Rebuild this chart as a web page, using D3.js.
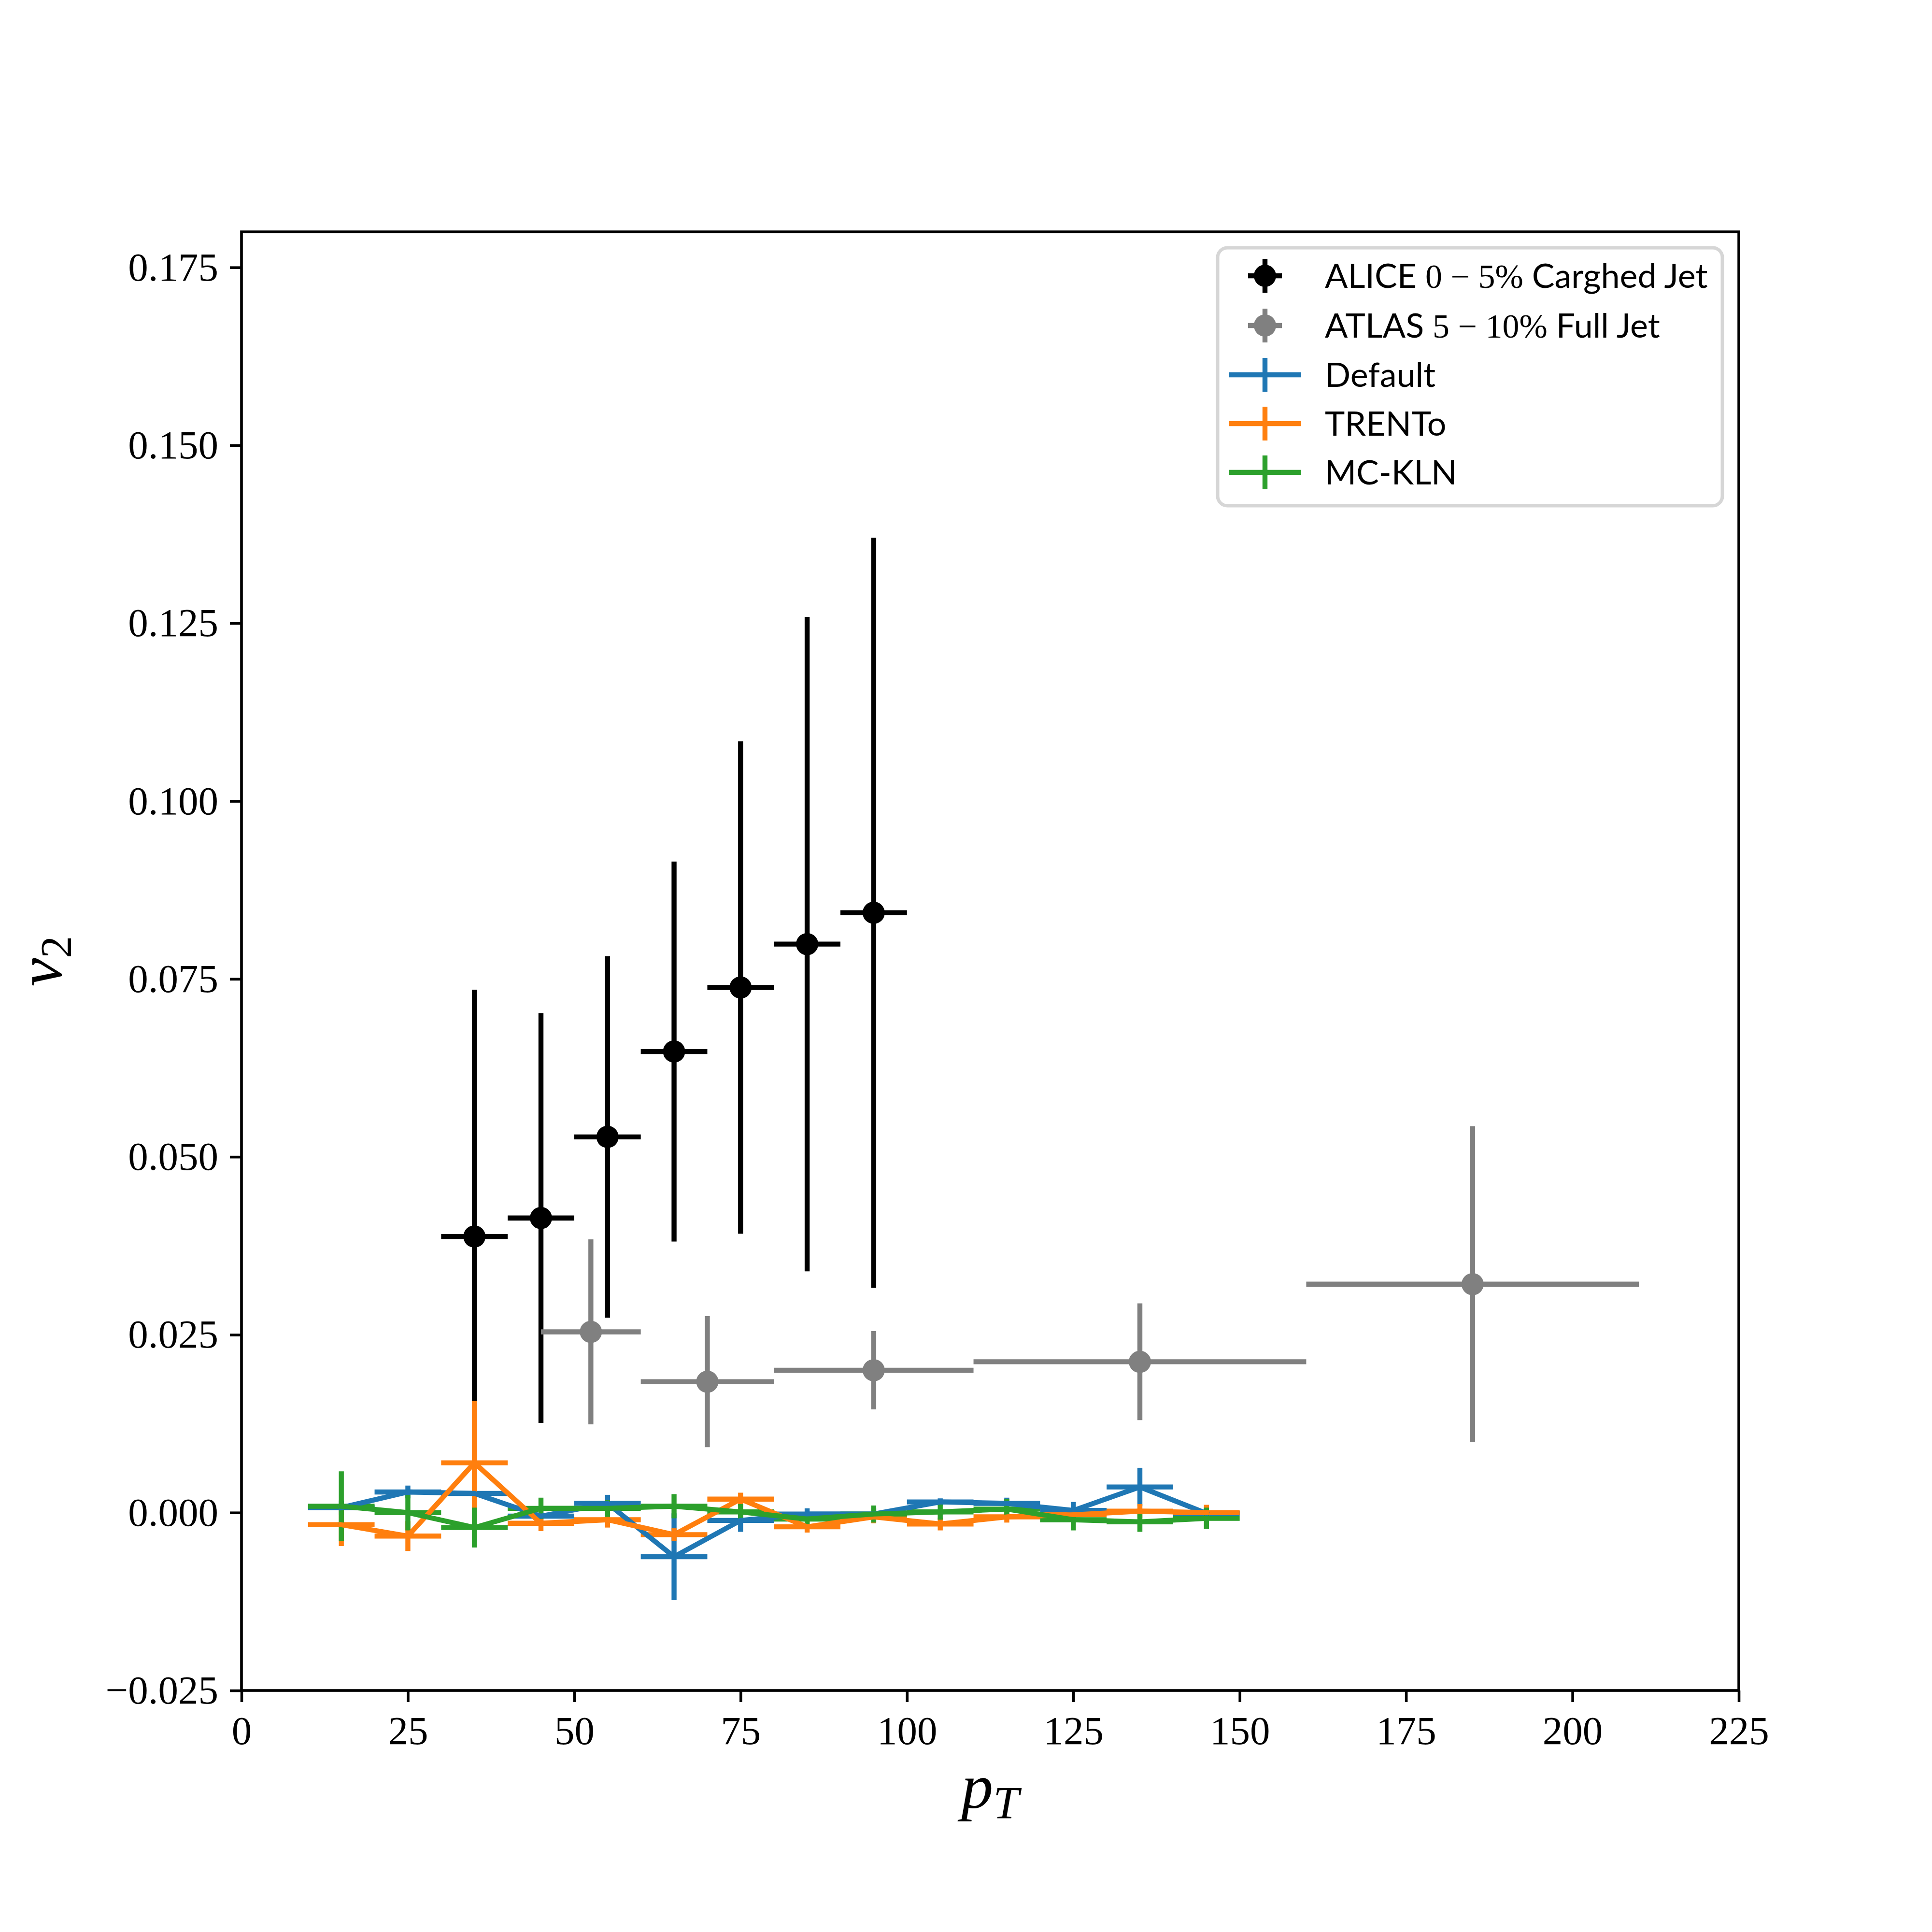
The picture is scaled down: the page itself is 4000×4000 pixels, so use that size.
<!DOCTYPE html>
<html>
<head>
<meta charset="utf-8">
<script src="https://cdn.jsdelivr.net/npm/d3@7/dist/d3.min.js"></script>
<style>
  html, body { margin: 0; padding: 0; background: #ffffff; }
  svg { display: block; }
</style>
</head>
<body>
<script>
// ---------------- data ----------------
const xTicks = [0, 25, 50, 75, 100, 125, 150, 175, 200, 225];
const yTicks = [-0.025, 0, 0.025, 0.05, 0.075, 0.1, 0.125, 0.15, 0.175];

const aliceX    = [35, 45, 55, 65, 75, 85, 95];
const aliceXerr = [5, 5, 5, 5, 5, 5, 5];
const aliceY    = [0.0388, 0.0414, 0.0528, 0.0648, 0.0738, 0.0799, 0.0843];
const aliceYerr = [0.0347, 0.0288, 0.0254, 0.0267, 0.0346, 0.0460, 0.0527];

const atlasX    = [52.5, 70, 95, 135, 185];
const atlasXerr = [7.5, 10, 15, 25, 25];
const atlasY    = [0.0254, 0.0184, 0.0200, 0.0212, 0.0321];
const atlasYerr = [0.0130, 0.0092, 0.0055, 0.0082, 0.0222];

const modelX    = [15, 25, 35, 45, 55, 65, 75, 85, 95, 105, 115, 125, 135, 145];
const modelXerr = [5, 5, 5, 5, 5, 5, 5, 5, 5, 5, 5, 5, 5, 5];
const defaultY   = [0.0007, 0.0029, 0.0027, -0.0005, 0.0013, -0.0062, -0.0011, -0.0002, -0.0002, 0.0015, 0.0013, 0.0003, 0.0036, -0.0001];
const defaultErr = [0.0010, 0.0009, 0.0010, 0.0010, 0.0012, 0.0061, 0.0016, 0.0008, 0.0008, 0.0005, 0.0008, 0.0012, 0.0027, 0.0008];
const trentoY    = [-0.0017, -0.0033, 0.0070, -0.0015, -0.0010, -0.0031, 0.0019, -0.0020, -0.0006, -0.0016, -0.0006, -0.0003, 0.0002, 0.0000];
const trentoErr  = [0.0030, 0.0021, 0.0087, 0.0011, 0.0011, 0.0009, 0.0009, 0.0008, 0.0009, 0.0009, 0.0008, 0.0009, 0.0010, 0.0011];
const mcklnY     = [0.0009, 0.0000, -0.0021, 0.0006, 0.0006, 0.0009, 0.0001, -0.0009, -0.0002, 0.0001, 0.0005, -0.0010, -0.0013, -0.0008];
const mcklnErr   = [0.0049, 0.0025, 0.0028, 0.0015, 0.0012, 0.0017, 0.0011, 0.0010, 0.0012, 0.0011, 0.0014, 0.0015, 0.0014, 0.0015];

const seriesNames = ["ALICE", "ATLAS", "Default", "TRENTo", "MC-KLN"];

// ---------------- layout ----------------
const W = 4000, H = 4000;
const M = { left: 500, right: 3600, top: 480, bottom: 3500 };
const LW = 10.4;         // 1.5pt line width
const SPINE = 5.6;       // 0.8pt
const serif = "'Liberation Serif', 'DejaVu Serif', serif";
const sans = "Lato, 'Open Sans', 'DejaVu Sans', sans-serif";

const x = d3.scaleLinear().domain([0, 225]).range([M.left, M.right]);
const y = d3.scaleLinear().domain([-0.025, 0.18]).range([M.bottom, M.top]);

const svg = d3.select("body").append("svg")
  .attr("width", W).attr("height", H)
  .attr("viewBox", `0 0 ${W} ${H}`);
svg.append("rect").attr("width", W).attr("height", H).attr("fill", "#ffffff");

// build series objects from arrays
function zipSeries(xs, xe, ys, ye) {
  return xs.map((v, i) => ({ x: v, xerr: xe[i], y: ys[i], yerr: ye[i] }));
}
const series = [
  { name: seriesNames[0], color: "#000000", marker: true,  line: false, data: zipSeries(aliceX, aliceXerr, aliceY, aliceYerr) },
  { name: seriesNames[1], color: "#808080", marker: true,  line: false, data: zipSeries(atlasX, atlasXerr, atlasY, atlasYerr) },
  { name: seriesNames[2], color: "#1f77b4", marker: false, line: true,  data: zipSeries(modelX, modelXerr, defaultY, defaultErr) },
  { name: seriesNames[3], color: "#ff7f0e", marker: false, line: true,  data: zipSeries(modelX, modelXerr, trentoY, trentoErr) },
  { name: seriesNames[4], color: "#2ca02c", marker: false, line: true,  data: zipSeries(modelX, modelXerr, mcklnY, mcklnErr) }
];

const plot = svg.append("g");

// error bars first (zorder 2), all series
series.forEach(s => {
  const g = plot.append("g").attr("stroke", s.color).attr("stroke-width", LW).attr("fill", "none");
  g.selectAll("line.v").data(s.data).join("line").attr("class", "v")
    .attr("x1", d => x(d.x)).attr("x2", d => x(d.x))
    .attr("y1", d => y(d.y - d.yerr)).attr("y2", d => y(d.y + d.yerr));
  g.selectAll("line.h").data(s.data).join("line").attr("class", "h")
    .attr("x1", d => x(d.x - d.xerr)).attr("x2", d => x(d.x + d.xerr))
    .attr("y1", d => y(d.y)).attr("y2", d => y(d.y));
});

// data lines and markers (zorder 2.1)
series.forEach(s => {
  if (s.line) {
    plot.append("path").datum(s.data)
      .attr("fill", "none").attr("stroke", s.color).attr("stroke-width", LW)
      .attr("stroke-linejoin", "round").attr("stroke-linecap", "square")
      .attr("d", d3.line().x(d => x(d.x)).y(d => y(d.y)));
  }
  if (s.marker) {
    plot.append("g").selectAll("circle").data(s.data).join("circle")
      .attr("cx", d => x(d.x)).attr("cy", d => y(d.y)).attr("r", 23)
      .attr("fill", s.color);
  }
});

// ---------------- axes ----------------
const fmtY = d3.format(".3f");
const xAxis = d3.axisBottom(x).tickValues(xTicks).tickFormat(d3.format("d"))
  .tickSizeInner(24).tickSizeOuter(0).tickPadding(24);
const yAxis = d3.axisLeft(y).tickValues(yTicks).tickFormat(fmtY)
  .tickSizeInner(24).tickSizeOuter(0).tickPadding(24);

const gx = svg.append("g").attr("transform", `translate(0,${M.bottom})`).call(xAxis);
const gy = svg.append("g").attr("transform", `translate(${M.left},0)`).call(yAxis);
[gx, gy].forEach(g => {
  g.select(".domain").remove();
  g.selectAll(".tick line").attr("stroke", "#000").attr("stroke-width", SPINE);
  g.selectAll(".tick text").attr("fill", "#000")
    .style("font-family", serif).style("font-size", "83px");
});
gx.selectAll(".tick text").attr("dy", "0.76em");

// spines
svg.append("rect")
  .attr("x", M.left).attr("y", M.top)
  .attr("width", M.right - M.left).attr("height", M.bottom - M.top)
  .attr("fill", "none").attr("stroke", "#000").attr("stroke-width", SPINE)
  .attr("stroke-linejoin", "miter");

// axis labels
const xl = svg.append("text")
  .attr("x", (M.left + M.right) / 2).attr("y", 3743)
  .attr("text-anchor", "middle")
  .style("font-family", serif).style("font-style", "italic").style("font-size", "132px");
xl.append("tspan").text("p");
xl.append("tspan").attr("dy", 22).style("font-size", "96px").text("T");

const yl = svg.append("text")
  .attr("transform", `translate(127,${(M.top + M.bottom) / 2}) rotate(-90)`)
  .attr("text-anchor", "middle")
  .style("font-family", serif).style("font-style", "italic").style("font-size", "132px");
yl.append("tspan").text("v");
yl.append("tspan").attr("dy", 20).style("font-size", "92px").style("font-style", "normal").text("2");

// ---------------- legend ----------------
const leg = svg.append("g");
leg.append("rect")
  .attr("x", 2521).attr("y", 513).attr("width", 3566 - 2521).attr("height", 1047 - 513)
  .attr("rx", 20).attr("ry", 20)
  .attr("fill", "#ffffff").attr("fill-opacity", 0.8)
  .attr("stroke", "#d6d6d6").attr("stroke-width", 7);

const legendRows = [
  { s: series[0], cy: 571, parts: [["ALICE ", sans], ["0 − 5%", serif], [" Carghed Jet", sans]] },
  { s: series[1], cy: 674, parts: [["ATLAS ", sans], ["5 − 10%", serif], [" Full Jet", sans]] },
  { s: series[2], cy: 776, parts: [["Default", sans]] },
  { s: series[3], cy: 877, parts: [["TRENTo", sans]] },
  { s: series[4], cy: 978, parts: [["MC-KLN", sans]] }
];
const hx = 2619;
legendRows.forEach(r => {
  const g = leg.append("g").attr("stroke", r.s.color).attr("stroke-width", LW);
  g.append("line").attr("x1", hx).attr("x2", hx).attr("y1", r.cy - 35).attr("y2", r.cy + 35);
  if (r.s.line) {
    g.append("line").attr("x1", 2544).attr("x2", 2694).attr("y1", r.cy).attr("y2", r.cy);
  } else {
    g.append("line").attr("x1", hx - 35).attr("x2", hx + 35).attr("y1", r.cy).attr("y2", r.cy);
    leg.append("circle").attr("cx", hx).attr("cy", r.cy).attr("r", 23).attr("fill", r.s.color);
  }
  const t = leg.append("text").attr("x", 2743).attr("y", r.cy + 25)
    .style("font-size", "70px").attr("fill", "#000");
  r.parts.forEach(p => t.append("tspan").style("font-family", p[1]).text(p[0]));
});
</script>
</body>
</html>
